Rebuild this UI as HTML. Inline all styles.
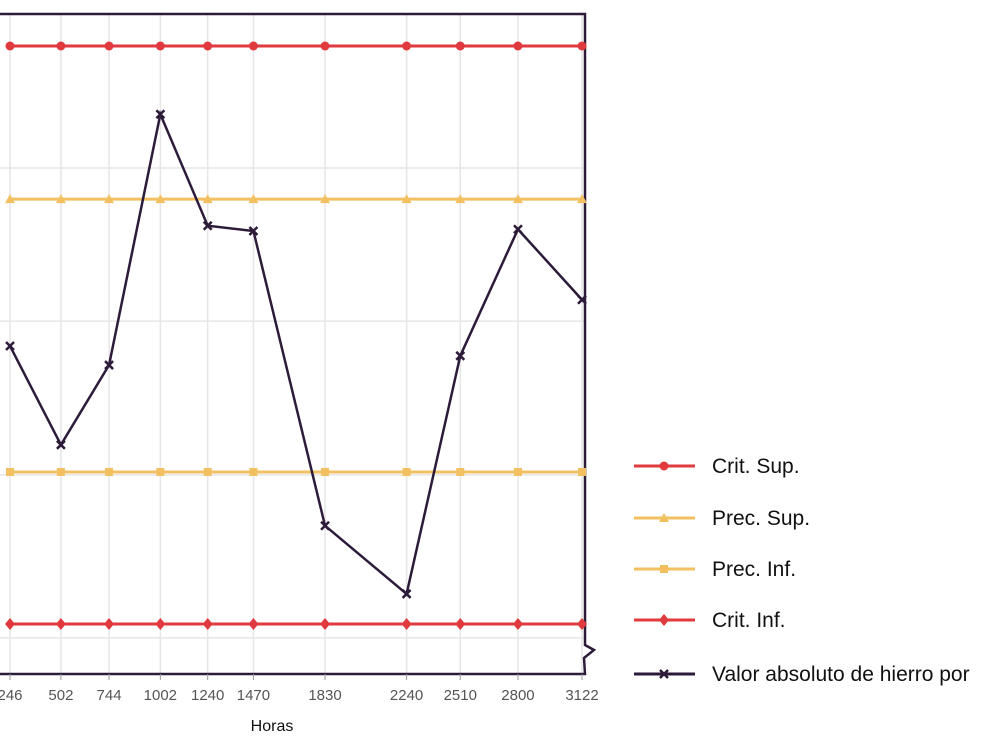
<!DOCTYPE html>
<html><head><meta charset="utf-8"><style>
body{margin:0;background:#fff;width:1000px;height:749px;overflow:hidden;font-family:"Liberation Sans",sans-serif}
</style></head><body>
<svg id="chart" width="1000" height="749" xmlns="http://www.w3.org/2000/svg"></svg>
<script>
const hours=[246,502,744,1002,1240,1470,1830,2240,2510,2800,3122];
const critSup=[100,100,100,100,100,100,100,100,100,100,100];
const precSup=[73.5,73.5,73.5,73.5,73.5,73.5,73.5,73.5,73.5,73.5,73.5];
const precInf=[26.3,26.3,26.3,26.3,26.3,26.3,26.3,26.3,26.3,26.3,26.3];
const critInf=[0,0,0,0,0,0,0,0,0,0,0];
const ironVals=[48.1,31.0,44.8,88.2,68.9,68.0,17.0,5.2,46.4,68.3,56.1];
const gridVals=[78.9,52.4,25.8,-2.4];
const legendLabels=["Crit. Sup.","Prec. Sup.","Prec. Inf.","Crit. Inf.","Valor absoluto de hierro por"];
const NS="http://www.w3.org/2000/svg";
const svg=document.getElementById('chart');
const x=v=>10+(v-246)*(582-10)/(3122-246);
const y=v=>624-v*5.78;
function mk(tag,attrs,parent){const e=document.createElementNS(NS,tag);for(const k in attrs)e.setAttribute(k,attrs[k]);(parent||svg).appendChild(e);return e;}
hours.forEach(h=>{const l=mk('line',{x1:x(h),x2:x(h),y1:14,y2:674,stroke:'#e6e6e6','stroke-width':1.5});

});
gridVals.forEach(g=>{const l=mk('line',{x1:0,x2:584,y1:y(g),y2:y(g),stroke:'#e6e6e6','stroke-width':1.5});

});
const fr=mk('path',{d:'M0 14 H585 V645 L594 650 L584 658 L585 674 H0',fill:'none',stroke:'#2d1b3a','stroke-width':2.5});


hours.forEach(h=>{const t=mk('line',{x1:x(h),x2:x(h),y1:674,y2:680,stroke:'#999'});


const tx=mk('text',{x:x(h),y:700,'text-anchor':'middle','font-size':15,fill:'#555'});tx.textContent=h;

});
const xt=mk('text',{x:272,y:731,'text-anchor':'middle','font-size':16,fill:'#111'});xt.textContent='Horas';


function marker(kind,cx,cy,col,g){
 if(kind==='circle')mk('circle',{cx,cy,r:4.5,fill:col},g);
 else if(kind==='tri')mk('path',{d:`M${cx} ${cy-5} L${cx+5} ${cy+4} L${cx-5} ${cy+4}Z`,fill:col},g);
 else if(kind==='sq')mk('rect',{x:cx-4,y:cy-4,width:8,height:8,fill:col},g);
 else if(kind==='dia')mk('path',{d:`M${cx} ${cy-6} L${cx+5} ${cy} L${cx} ${cy+6} L${cx-5} ${cy}Z`,fill:col},g);
 else {mk('path',{d:`M${cx-4} ${cy-4} L${cx+4} ${cy+4} M${cx+4} ${cy-4} L${cx-4} ${cy+4}`,stroke:col,'stroke-width':2.5},g);}
}
const series=[[critSup,'#e0393e','circle','crit-sup'],[precSup,'#f2c060','tri','prec-sup'],[precInf,'#f2c060','sq','prec-inf'],[critInf,'#e0393e','dia','crit-inf'],[ironVals,'#2d1b3a','x','iron-value']];
series.forEach(([vals,col,m,name])=>{
 const g=mk('g',{});
 
 
 mk('polyline',{points:vals.map((v,i)=>x(hours[i])+','+y(v)).join(' '),fill:'none',stroke:col,'stroke-width':name==='iron-value'?2.5:3},g);
 vals.forEach((v,i)=>marker(m,x(hours[i]),y(v),col,g));
});
const ly=[466,518,569,620,674];
series.forEach(([vals,col,m,name],i)=>{
 const g=mk('g',{});
 
 
 mk('line',{x1:634,x2:695,y1:ly[i],y2:ly[i],stroke:col,'stroke-width':3},g);
 marker(m,664,ly[i],col,g);
 const t=mk('text',{x:712,y:ly[i]+7,'font-size':21,fill:'#111'},g);t.textContent=legendLabels[i];
});
</script>
</body></html>
